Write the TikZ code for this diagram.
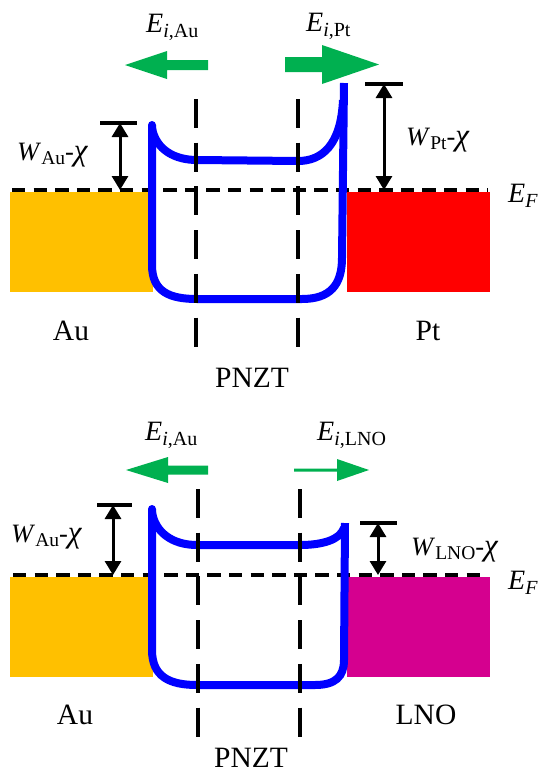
\documentclass[tikz,border=0pt]{standalone}
\usepackage{fontspec}
\setmainfont{Liberation Serif}
\usetikzlibrary{arrows.meta}
\definecolor{aucol}{HTML}{FFC000}
\definecolor{ptcol}{HTML}{FF0000}
\definecolor{lnocol}{RGB}{213,0,143}
\definecolor{grn}{HTML}{00B050}
\definecolor{bandblue}{HTML}{0000FF}
\newcommand{\subt}[1]{\raisebox{-5.5pt}{\fontsize{20}{20}\selectfont #1}}
\newcommand{\subw}[1]{\raisebox{-4pt}{\fontsize{19.5}{19.5}\selectfont #1}}
\newcommand{\chisym}{{\fontsize{31}{31}\selectfont\textit{χ}}}
\begin{document}
\begin{tikzpicture}[x=1pt,y=-1pt,
  fermi/.style={black, line width=3.5pt, dash pattern=on 13.3pt off 8.3pt},
  guide/.style={black, line width=3.3pt, dash pattern=on 29pt off 14.7pt},
  band/.style={bandblue, line width=8pt},
  gaparrow/.style={black, line width=3pt, {Triangle[width=16pt,length=14pt]}-{Triangle[width=16pt,length=14pt]}},
  bar/.style={black, line width=4pt},
  field/.style={fill=grn, draw=none},
  lbl/.style={inner sep=0pt, anchor=base, font=\fontsize{29.5}{30}\selectfont},
  sym/.style={inner sep=0pt, anchor=base west, font=\fontsize{28}{28}\selectfont},
  wsym/.style={inner sep=0pt, anchor=base west, font=\fontsize{26.5}{26.5}\selectfont}]
\useasboundingbox (0,0) rectangle (539,774);

% ================= TOP PANEL =================
\fill[aucol] (10,192) rectangle (153,292);
\fill[ptcol] (347,192) rectangle (490,292);
\coordinate (efa1) at (12,190); \coordinate (efa2) at (488,190);
\draw[fermi] (efa1) -- (efa2);

% band diagram
\draw[band] (152,125) -- (152,265) .. controls (152,292) and (170,299) .. (197,299)
  -- (302,299) .. controls (330,299) and (342,285) .. (342,258) -- (344,83);
\fill[bandblue] (152,125) circle (4pt);
\draw[band] (152,128) .. controls (156,150) and (175,160) .. (197,160)
  -- (298,161) .. controls (322,161) and (341,145) .. (343,100);

% guides
\coordinate (ga1) at (196,99); \coordinate (ga2) at (196,347);
\coordinate (gb1) at (298,99); \coordinate (gb2) at (298,347);
\draw[guide] (ga1) -- (ga2);
\draw[guide] (gb1) -- (gb2);

% work function arrows
\coordinate (wau1) at (120,123); \coordinate (wau2) at (120,190);
\draw[bar] (100,123) -- (137,123);
\draw[gaparrow] (wau1) -- (wau2);
\coordinate (wpt1) at (384,84); \coordinate (wpt2) at (384,190);
\draw[bar] (365,84) -- (403,84);
\draw[gaparrow] (wpt1) -- (wpt2);

% field arrows
\fill[field] (208,60)--(167,60)--(167,51)--(125,65)--(167,79)--(167,70)--(208,70)--cycle;
\fill[field] (285,57)--(322,57)--(322,45)--(379,64.5)--(322,84)--(322,72)--(285,72)--cycle;

% labels
\node[sym] (eiau1) at (146,32) {\textit{E}\subt{\textit{i},Au}};
\node[sym] (eipt) at (306,31) {\textit{E}\subt{\textit{i},Pt}};
\node[wsym] (wau1l) at (17,160) {\textit{W}\subw{Au}-\chisym};
\node[wsym] (wptl) at (406,145) {\textit{W}\subw{Pt}-\chisym};
\node[sym] (ef1) at (508,202) {\textit{E}\subt{\textit{F}}};
\node[lbl] (au1) at (71,340) {Au};
\node[lbl] (pt) at (428,340) {Pt};
\node[lbl] (pnzt1) at (252,387) {PNZT};

% ================= BOTTOM PANEL =================
\fill[aucol] (10,577) rectangle (153,677);
\fill[lnocol] (347,577) rectangle (490,677);
\coordinate (efb1) at (13,575); \coordinate (efb2) at (488,575);
\draw[fermi] (efb1) -- (efb2);

\draw[band] (152,509) -- (152,650) .. controls (152,677) and (170,685) .. (197,685)
  -- (315,685) .. controls (335,685) and (344,677) .. (344,660) -- (345,523);
\fill[bandblue] (152,509) circle (4pt);
\draw[band] (152,512) .. controls (155,532) and (172,545) .. (197,545)
  -- (300,545) .. controls (322,545) and (340,540) .. (344,528);

\coordinate (gc1) at (198,489); \coordinate (gc2) at (198,738);
\coordinate (gd1) at (300,489); \coordinate (gd2) at (300,738);
\draw[guide] (gc1) -- (gc2);
\draw[guide] (gd1) -- (gd2);

\coordinate (wau3) at (113,505); \coordinate (wau4) at (113,575);
\draw[bar] (97,505) -- (132,505);
\draw[gaparrow] (wau3) -- (wau4);
\coordinate (wlno1) at (378,523); \coordinate (wlno2) at (378,575);
\draw[bar] (360,523) -- (397,523);
\draw[gaparrow] (wlno1) -- (wlno2);

\fill[field] (208,465.5)--(168,465.5)--(168,457)--(126,470)--(168,483)--(168,474.5)--(208,474.5)--cycle;
\fill[field] (294,468.5)--(337,468.5)--(337,459)--(369,470)--(337,481)--(337,471.5)--(294,471.5)--cycle;

\node[sym] (eiau2) at (145,440) {\textit{E}\subt{\textit{i},Au}};
\node[sym] (eilno) at (317,440) {\textit{E}\subt{\textit{i},LNO}};
\node[wsym] (wau2l) at (11,542) {\textit{W}\subw{Au}-\chisym};
\node[wsym] (wlnol) at (411,555) {\textit{W}\subw{LNO}-\chisym};
\node[sym] (ef2) at (508,589) {\textit{E}\subt{\textit{F}}};
\node[lbl] (au2) at (75,724) {Au};
\node[lbl] (lno) at (426,724) {LNO};
\node[lbl] (pnzt2) at (251,767) {PNZT};
\end{tikzpicture}
\end{document}
